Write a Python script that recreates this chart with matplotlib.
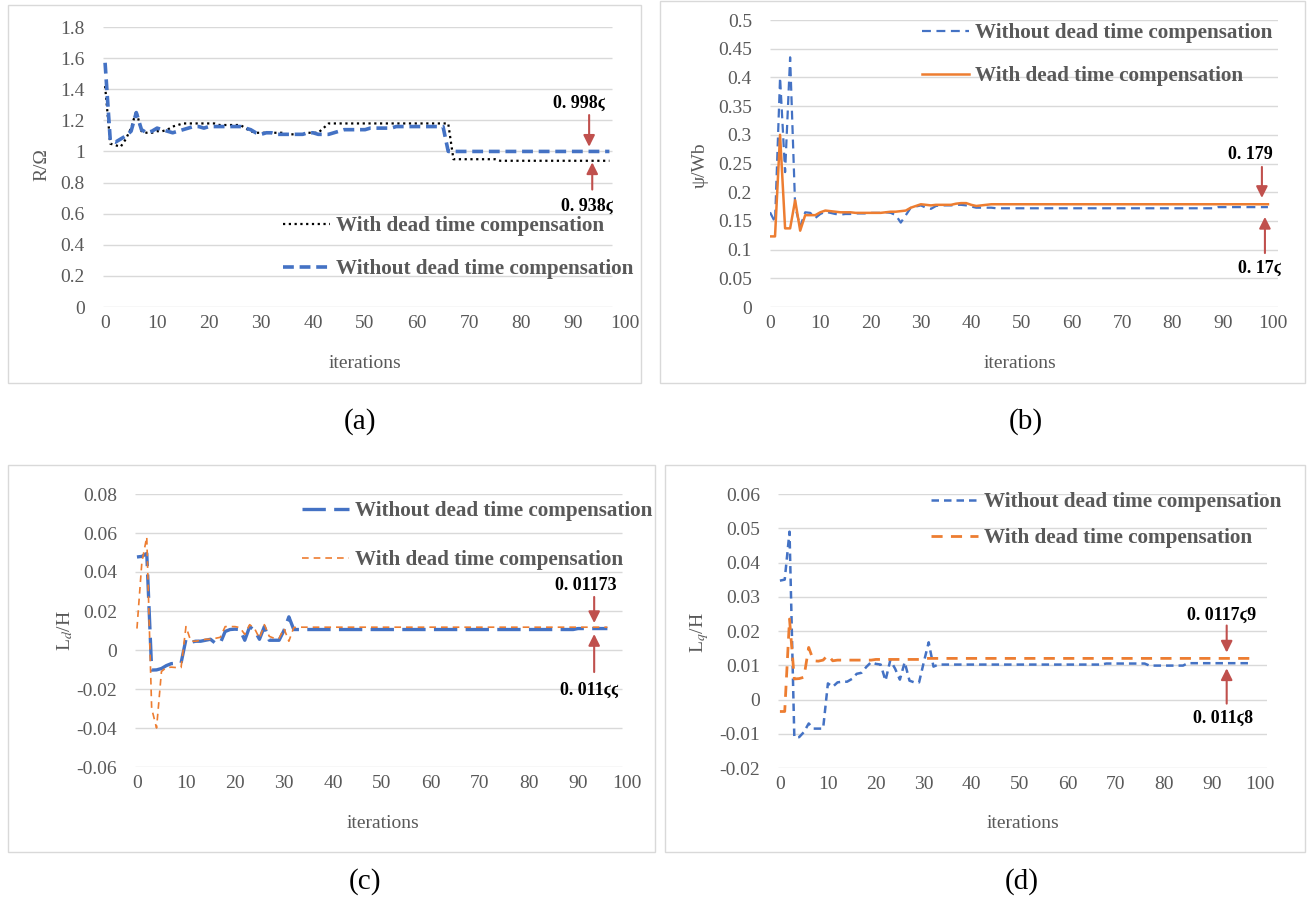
import numpy as np
import matplotlib
matplotlib.use("Agg")
import matplotlib.pyplot as plt
from matplotlib.patches import Rectangle

plt.rcParams['font.family'] = ['Liberation Serif', 'DejaVu Serif']
plt.rcParams['mathtext.fontset'] = 'stix'

W, H = 1311, 897

# ---- data ----
# (a) resistance
a_with = ([1.42, 1.05, 1.04, 1.03, 1.08, 1.15, 1.26, 1.13, 1.12, 1.12,
           1.13, 1.13, 1.14, 1.16, 1.17]
          + [1.18] * 7 + [1.17] * 5 + [1.15, 1.13]
          + [1.12, 1.12, 1.12, 1.12, 1.12, 1.12, 1.11, 1.11, 1.11, 1.11, 1.12, 1.12, 1.12]
          + [1.15] + [1.18] * 24 + [0.95] * 9 + [0.94] * 22)
a_without = ([1.57, 1.07, 1.06, 1.08, 1.10, 1.13, 1.25, 1.14, 1.12, 1.13,
              1.15, 1.14, 1.13, 1.12, 1.13, 1.14, 1.15, 1.16, 1.16, 1.15]
             + [1.16] * 7 + [1.15, 1.14, 1.12, 1.11]
             + [1.12, 1.12, 1.11, 1.11, 1.11, 1.11, 1.11, 1.11, 1.12, 1.12, 1.11, 1.11, 1.11, 1.12]
             + [1.13] + [1.14] * 5 + [1.15] * 5 + [1.16] * 10 + [1.0] * 32)

# (b) flux linkage
b_without = ([0.165, 0.148, 0.40, 0.235, 0.435, 0.175, 0.14, 0.165, 0.164, 0.155,
              0.162, 0.166, 0.164, 0.162, 0.161]
             + [0.162, 0.162, 0.163, 0.163, 0.163, 0.164, 0.164, 0.164, 0.165, 0.164]
             + [0.16, 0.147, 0.16, 0.173, 0.175, 0.177, 0.173, 0.171]
             + [0.176, 0.177, 0.177, 0.177, 0.178, 0.178, 0.177]
             + [0.175, 0.173, 0.173, 0.173, 0.173] + [0.172] * 44 + [0.174] * 11)
b_with = ([0.123, 0.123, 0.30, 0.137, 0.137, 0.186, 0.133, 0.16, 0.16, 0.16,
           0.165, 0.168, 0.167]
          + [0.166, 0.165, 0.165, 0.165] + [0.164] * 6
          + [0.165, 0.166, 0.166, 0.167, 0.168]
          + [0.173, 0.176, 0.179, 0.178, 0.177] + [0.178] * 4
          + [0.18, 0.181, 0.181, 0.178, 0.176, 0.177, 0.178] + [0.179] * 56)

# (c) d-axis inductance
c_without = ([0.0477, 0.048, 0.0495, -0.0103, -0.0102, -0.0095, -0.008, -0.007, -0.0068, -0.0067,
              0.0055, 0.004, 0.0045, 0.0045, 0.005, 0.0055, 0.0035, 0.0035, 0.0095, 0.0105,
              0.0107, 0.0105, 0.005, 0.012, 0.01, 0.0055, 0.012, 0.005, 0.005, 0.005,
              0.01, 0.017, 0.0105]
             + [0.0105] * 57 + [0.011] * 7)
c_with = ([0.011, 0.045, 0.058, -0.03, -0.04, -0.011, -0.009, -0.0088, -0.009, -0.009,
           0.012, 0.0045, 0.0045, 0.005, 0.0055, 0.0055, 0.006, 0.0065, 0.012, 0.012,
           0.012, 0.0115, 0.008, 0.013, 0.011, 0.006, 0.013, 0.007, 0.006, 0.006,
           0.011, 0.0045, 0.0115]
          + [0.0117] * 64)

# (d) q-axis inductance
d_without = ([0.0347, 0.035, 0.049, -0.011, -0.011, -0.0095, -0.007, -0.0085, -0.0085, -0.0085,
              0.0047, 0.0037, 0.005, 0.0052, 0.0052, 0.006, 0.0075, 0.0078, 0.0095, 0.0109,
              0.0104, 0.0102, 0.0055, 0.0115, 0.009, 0.0058, 0.0109, 0.0055, 0.005, 0.005,
              0.011, 0.0167, 0.0096]
             + [0.0102] * 35 + [0.0105] * 9 + [0.0099] * 8 + [0.0106] * 14)
d_with = ([-0.0035, -0.0035, 0.0235, 0.006, 0.0061, 0.0065, 0.0152, 0.0113, 0.0112, 0.0115,
           0.013, 0.0113]
          + [0.0115] * 8 + [0.0117] * 10 + [0.012] * 69)

lbl_with = 'With dead time compensation'
lbl_without = 'Without dead time compensation'

BLUE = '#4472C4'
ORANGE = '#ED7D31'
GREY = '#595959'
GRID = '#D9D9D9'
RED = '#C0504D'

LEG_FS = 15.2
LEG_PX = LEG_FS * 100 / 72


def fx(x):
    return x / W


def fy(y):
    return 1 - y / H


def make_axes(fig, x0, x1, y0, y1):
    # pixel box -> figure fraction
    return fig.add_axes([fx(x0), fy(y1), (x1 - x0) / W, (y1 - y0) / H])


def style(ax, xlim, ylim, yticks, grid_end):
    ax.set_xlim(*xlim)
    ax.set_ylim(*ylim)
    ax.set_xticks(np.arange(0, 101, 10))
    ax.set_yticks(yticks)
    ax.set_yticklabels(['%g' % round(t, 3) for t in yticks])
    for s in ax.spines.values():
        s.set_visible(False)
    ax.tick_params(length=0, labelsize=14, labelcolor=GREY)
    ax.tick_params(axis='y', pad=13)
    ax.tick_params(axis='x', pad=6)
    ax.hlines(yticks, xlim[0], grid_end, color=GRID, lw=1.0, zorder=0)
    ax.patch.set_alpha(0)


def arrow(ax, tail, head):
    ax.annotate('', xy=head, xytext=tail,
                arrowprops=dict(arrowstyle='-|>', color=RED, lw=1.5, mutation_scale=17,
                                shrinkA=0, shrinkB=0))


def note(ax, x, y, s):
    ax.text(x, y, s, ha='center', va='center', fontsize=13, weight='bold',
            family=['Liberation Serif', 'DejaVu Serif'], color='black')


def legend(ax, x, y, gap):
    leg = ax.legend(loc='upper left', bbox_to_anchor=(fx(x), fy(y - 8)),
                    bbox_transform=ax.figure.transFigure, frameon=False,
                    borderpad=0, borderaxespad=0, handlelength=2.23, handletextpad=0.28,
                    labelspacing=(gap - 0.9 * LEG_PX) / LEG_PX,
                    prop=dict(family='Liberation Serif', weight='bold', size=LEG_FS))
    for t in leg.get_texts():
        t.set_color(GREY)


fig = plt.figure(figsize=(W / 100, H / 100), dpi=100)

# panel frames
for (x0, y0, x1, y1) in [(8, 5, 641, 383), (660, 1, 1305, 383),
                         (8, 465, 655, 852), (665, 465, 1305, 852)]:
    fig.add_artist(Rectangle((fx(x0), fy(y1)), (x1 - x0) / W, (y1 - y0) / H,
                             transform=fig.transFigure, fill=False, ec=GRID, lw=1.0))

# ---- (a) ----
ax = make_axes(fig, 103, 625, 27, 307)
xa = np.arange(len(a_with))
ax.plot(xa, a_with, color='black', lw=1.6, ls=(0, (1, 1.6)), label=lbl_with)
ax.plot(xa, a_without, color=BLUE, lw=2.6, ls=(0, (3, 1.6)), label=lbl_without)
style(ax, (-0.4, 100), (0, 1.8), np.arange(0, 1.81, 0.2), 97.5)
legend(ax, 283, 224, 42)
note(ax, 91.2, 1.31, '0. 998ϛ')
arrow(ax, (93.1, 1.234), (93.1, 1.03))
note(ax, 92.7, 0.645, '0. 938ϛ')
arrow(ax, (93.7, 0.755), (93.7, 0.93))

# ---- (b) ----
ax = make_axes(fig, 770, 1278, 20, 307)
xb = np.arange(len(b_without))
ax.plot(xb, b_without, color=BLUE, lw=1.6, ls=(0, (4, 2.5)), label=lbl_without)
ax.plot(xb, b_with, color=ORANGE, lw=1.8, label=lbl_with)
style(ax, (0, 101), (0, 0.5), np.arange(0, 0.501, 0.05), 101)
legend(ax, 922, 31, 42)
note(ax, 95.6, 0.265, '0. 179')
arrow(ax, (97.8, 0.244), (97.8, 0.19))
note(ax, 97.4, 0.068, '0. 17ϛ')
arrow(ax, (98.4, 0.094), (98.4, 0.157))

# ---- (c) ----
ax = make_axes(fig, 135, 627, 494, 767)
xc = np.arange(len(c_without))
ax.plot(xc, c_without, color=BLUE, lw=2.4, ls=(0, (7, 2.5)), label=lbl_without)
ax.plot(xc, c_with, color=ORANGE, lw=1.2, ls=(0, (4, 3)), label=lbl_with)
style(ax, (-0.4, 100), (-0.06, 0.08), np.arange(-0.06, 0.0801, 0.02), 99)
legend(ax, 302, 509, 48)
note(ax, 91.6, 0.0333, '0. 01173')
arrow(ax, (93.3, 0.0272), (93.3, 0.0138))
note(ax, 92.4, -0.0205, '0. 011ϛϛ')
arrow(ax, (93.3, -0.0113), (93.3, 0.0082))

# ---- (d) ----
ax = make_axes(fig, 778, 1267, 494, 768)
xd = np.arange(len(d_without))
ax.plot(xd, d_without, color=BLUE, lw=1.8, ls=(0, (3, 2)), label=lbl_without)
ax.plot(xd, d_with, color=ORANGE, lw=2.0, ls=(0, (4, 3)), label=lbl_with)
style(ax, (-0.4, 101.5), (-0.02, 0.06), np.arange(-0.02, 0.0601, 0.01), 101.5)
legend(ax, 931, 500, 35)
note(ax, 92.1, 0.0245, '0. 0117ϛ9')
arrow(ax, (93.1, 0.0216), (93.1, 0.0137))
note(ax, 92.3, -0.0055, '0. 011ϛ8')
arrow(ax, (93.1, -0.0012), (93.1, 0.0091))

# axis titles
lab = dict(fontsize=14, color=GREY, ha='center', va='center')
fig.text(fx(42), fy(165), 'R/Ω', rotation=90, **lab)
fig.text(fx(700), fy(165), 'ψ/Wb', rotation=90, **lab)
fig.text(fx(65), fy(630), 'L$_{d}$/H', rotation=90, **lab)
fig.text(fx(700), fy(632), 'L$_{q}$/H', rotation=90, **lab)
fig.text(fx(365), fy(363), 'iterations', **lab)
fig.text(fx(1020), fy(363), 'iterations', **lab)
fig.text(fx(383), fy(823), 'iterations', **lab)
fig.text(fx(1023), fy(823), 'iterations', **lab)

# captions
for x, y, s in [(360, 422, '(a)'), (1026, 422, '(b)'), (365, 882, '(c)'), (1022, 882, '(d)')]:
    fig.text(fx(x), fy(y), s, fontsize=21, color='black', ha='center', va='center')

fig.savefig('out.png', dpi=100)
